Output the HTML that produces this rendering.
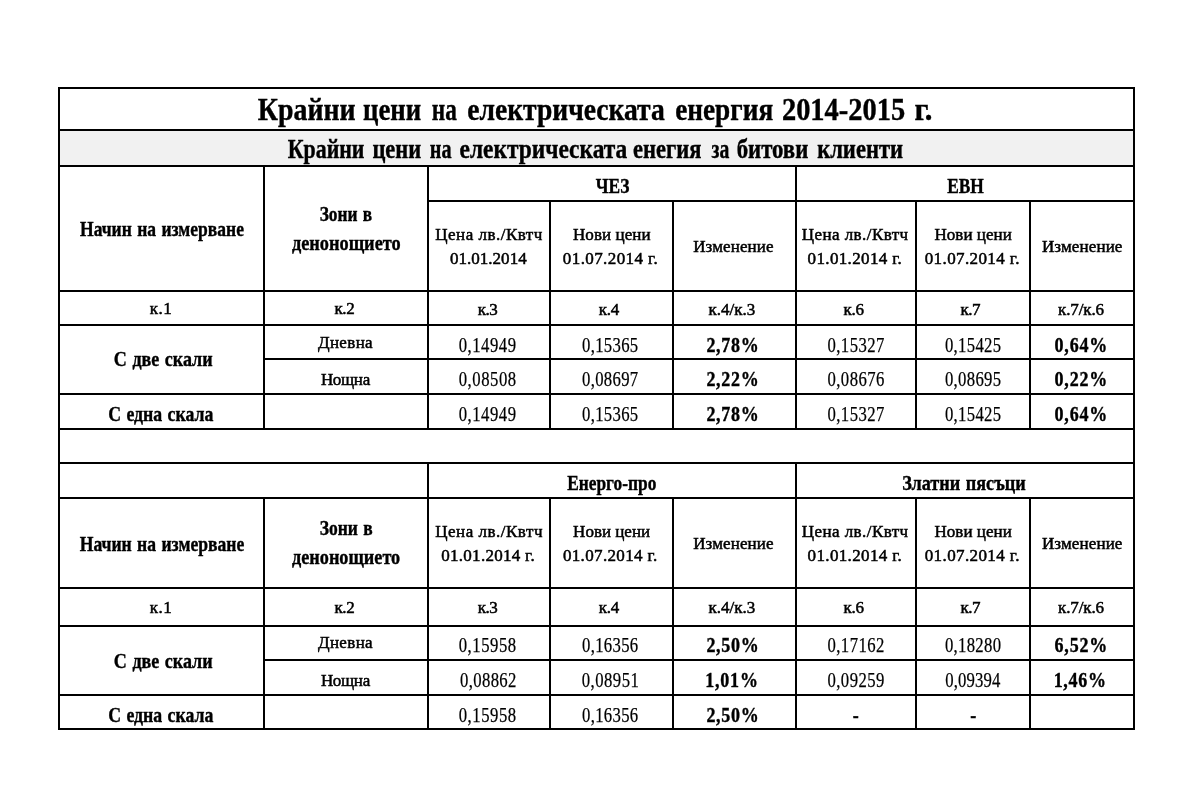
<!DOCTYPE html>
<html lang="bg"><head><meta charset="utf-8"><title>Крайни цени на електрическата енергия 2014-2015 г.</title>
<style>
html,body{margin:0;padding:0;background:#fff}
body{width:1178px;height:792px;overflow:hidden;position:relative;font-family:"Liberation Serif","DejaVu Serif",serif;color:#000}
table{position:absolute;left:58px;top:87px;width:1077px;border-collapse:separate;border-spacing:0;table-layout:fixed;border-left:2px solid #000;border-top:2px solid #000}
td,th{box-sizing:border-box;border-right:2px solid #000;border-bottom:2px solid #000;padding:0;text-align:center;vertical-align:middle;white-space:nowrap;overflow:visible;font-weight:normal;line-height:0}
.g{background:#f1f1f1}
.x{display:inline-block;white-space:nowrap;transform-origin:50% 50%;-webkit-text-stroke:0.4px #000}
.t1{font-weight:bold;font-size:32px;line-height:36px}
.t2{font-weight:bold;font-size:27px;line-height:30px}
.hb{font-weight:bold;font-size:21.5px;line-height:29px;word-spacing:1.2px}
.hr{font-size:17px;line-height:24px;-webkit-text-stroke-width:0.5px}
.k{font-size:17px;line-height:20px;-webkit-text-stroke-width:0.5px}
.n{font-size:21.7px;line-height:24px;-webkit-text-stroke-width:0.25px}
.p{font-weight:bold;font-size:21.7px;line-height:24px}
</style></head>
<body>
<table>
<colgroup><col style="width:205px"><col style="width:164px"><col style="width:122px"><col style="width:123px"><col style="width:123px"><col style="width:120px"><col style="width:114px"><col style="width:104px"></colgroup>
<tbody>
<tr style="height:42px"><th colspan="8"><span class="x t1" id="s1w1" style="transform:translate(24.5px,0px) scaleX(0.8700)">Крайни</span> <span class="x t1" id="s1w2" style="transform:translate(15.3px,0px) scaleX(0.8360)">цени</span> <span class="x t1" id="s1w3" style="transform:translate(12.2px,0px) scaleX(0.7286)">на</span> <span class="x t1" id="s1w4" style="transform:translate(-2.6px,0px) scaleX(0.8615)">електрическата</span> <span class="x t1" id="s1w5" style="transform:translate(-20.3px,0px) scaleX(0.8527)">енергия</span> <span class="x t1" id="s1w6" style="transform:translate(-31.8px,0px) scaleX(0.8882)">2014-2015</span> <span class="x t1" id="s1w7" style="transform:translate(-35.0px,0px) scaleX(0.9580)">г.</span></th></tr>
<tr style="height:36px"><th colspan="8" class="g"><span class="x t2" id="s2w1" style="transform:translate(30.7px,1px) scaleX(0.8087)">Крайни</span> <span class="x t2" id="s2w2" style="transform:translate(21.5px,1px) scaleX(0.8334)">цени</span> <span class="x t2" id="s2w3" style="transform:translate(17.1px,1px) scaleX(0.7482)">на</span> <span class="x t2" id="s2w4" style="transform:translate(4.7px,1px) scaleX(0.8667)">електрическата</span> <span class="x t2" id="s2w5" style="transform:translate(-13.7px,1px) scaleX(0.8354)">енегия</span> <span class="x t2" id="s2w6" style="transform:translate(-17.8px,1px) scaleX(0.7290)">за</span> <span class="x t2" id="s2w7" style="transform:translate(-24.0px,1px) scaleX(0.8433)">битови</span> <span class="x t2" id="s2w8" style="transform:translate(-34.2px,1px) scaleX(0.8376)">клиенти</span></th></tr>
<tr style="height:35px"><th rowspan="2"><span class="x hb" id="s3" style="transform:translate(0.5px,0.5px) scaleX(0.8157)">Начин на измерване</span></th><th rowspan="2"><span class="x hb" id="s4" style="transform:translate(0.4px,-0.5px) scaleX(0.8067)">Зони в</span><br><span class="x hb" id="s5" style="transform:translate(0.4px,-0.5px) scaleX(0.8501)">денонощието</span></th><th colspan="3"><span class="x hb" id="s6" style="transform:translate(0.8px,2.5px) scaleX(0.8085)">ЧЕЗ</span></th><th colspan="3"><span class="x hb" id="s7" style="transform:translate(0.8px,2.5px) scaleX(0.8070)">ЕВН</span></th></tr>
<tr style="height:90px"><th><span class="x hr" id="s8" style="transform:translate(0.06px,0.5px) scaleX(1.0000);letter-spacing:0.496px">Цена лв./Квтч</span><br><span class="x hr" id="s9" style="transform:translate(-0.7px,0.5px) scaleX(1.0000);letter-spacing:0.027px">01.01.2014</span></th><th><span class="x hr" id="s10" style="transform:translate(0.3px,0.5px) scaleX(1.0000);letter-spacing:0.075px">Нови цени</span><br><span class="x hr" id="s11" style="transform:translate(-1.0px,0.5px) scaleX(1.0000);letter-spacing:0.409px">01.07.2014 г.</span></th><th><span class="x hr" id="s12" style="transform:translate(-1.1px,0.6px) scaleX(1.0000);letter-spacing:0.109px">Изменение</span></th><th><span class="x hr" id="s13" style="transform:translate(-0.84px,0.5px) scaleX(1.0000);letter-spacing:0.436px">Цена лв./Квтч</span><br><span class="x hr" id="s14" style="transform:translate(-1.1px,0.5px) scaleX(1.0000);letter-spacing:0.345px">01.01.2014 г.</span></th><th><span class="x hr" id="s15" style="transform:translate(0.16px,0.5px) scaleX(1.0000);letter-spacing:0.038px">Нови цени</span><br><span class="x hr" id="s16" style="transform:translate(-0.7px,0.5px) scaleX(1.0000);letter-spacing:0.392px">01.07.2014 г.</span></th><th><span class="x hr" id="s17" style="transform:translate(0.2px,0.6px) scaleX(1.0000);letter-spacing:0.126px">Изменение</span></th></tr>
<tr style="height:34px"><th><span class="x k" id="s18" style="transform:translate(-0.5px,1.0px) scaleX(1.0000);letter-spacing:0.5px">к.1</span></th><th><span class="x k" id="s19" style="transform:translate(-1.6px,1.0px) scaleX(1.0000);letter-spacing:-0.4px">к.2</span></th><th><span class="x k" id="s20" style="transform:translate(-1.5px,1.9px) scaleX(1.0000);letter-spacing:-0.5px">к.3</span></th><th><span class="x k" id="s21" style="transform:translate(-2.7px,1.9px) scaleX(1.0000);letter-spacing:-0.3px">к.4</span></th><th><span class="x k" id="s22" style="transform:translate(-2.6px,1.9px) scaleX(1.0000);letter-spacing:0.0px">к.4/к.3</span></th><th><span class="x k" id="s23" style="transform:translate(-2.4px,1.9px) scaleX(1.0000);letter-spacing:-0.2px">к.6</span></th><th><span class="x k" id="s24" style="transform:translate(-2.8px,1.9px) scaleX(1.0000);letter-spacing:-0.6px">к.7</span></th><th><span class="x k" id="s25" style="transform:translate(-1.0px,1.9px) scaleX(1.0000);letter-spacing:-0.124px">к.7/к.6</span></th></tr>
<tr style="height:34px"><th rowspan="2"><span class="x hb" id="s26" style="transform:translate(1.4px,0.3px) scaleX(0.8392)">С две скали</span></th><th><span class="x hr" id="s27" style="transform:translate(-0.5px,0.5px) scaleX(1.0000);letter-spacing:0.36px">Дневна</span></th><td><span class="x n" id="s28" style="transform:translate(-1.0px,2.8px) scaleX(0.7700);letter-spacing:0.679px">0,14949</span></td><td><span class="x n" id="s29" style="transform:translate(-1.3px,2.8px) scaleX(0.7700);letter-spacing:0.38px">0,15365</span></td><td><span class="x p" id="s30" style="transform:translate(-2.0px,2.8px) scaleX(0.8300);letter-spacing:0.84px">2,78%</span></td><td><span class="x n" id="s31" style="transform:translate(-0.1px,2.8px) scaleX(0.7700);letter-spacing:0.569px">0,15327</span></td><td><span class="x n" id="s32" style="transform:translate(0.5px,2.8px) scaleX(0.7700);letter-spacing:0.398px">0,15425</span></td><td><span class="x p" id="s33" style="transform:translate(-1.1px,2.8px) scaleX(0.8300);letter-spacing:1.038px">0,64%</span></td></tr>
<tr style="height:35px"><th><span class="x hr" id="s34" style="transform:translate(-0.6px,3.2px) scaleX(1.0000);letter-spacing:-0.3px">Нощна</span></th><td><span class="x n" id="s35" style="transform:translate(-1.0px,1.6px) scaleX(0.7700);letter-spacing:0.69px">0,08508</span></td><td><span class="x n" id="s36" style="transform:translate(-1.3px,1.6px) scaleX(0.7700);letter-spacing:0.382px">0,08697</span></td><td><span class="x p" id="s37" style="transform:translate(-2.0px,1.6px) scaleX(0.8300);letter-spacing:0.84px">2,22%</span></td><td><span class="x n" id="s38" style="transform:translate(-0.1px,1.6px) scaleX(0.7700);letter-spacing:0.568px">0,08676</span></td><td><span class="x n" id="s39" style="transform:translate(0.5px,1.6px) scaleX(0.7700);letter-spacing:0.398px">0,08695</span></td><td><span class="x p" id="s40" style="transform:translate(-1.1px,1.6px) scaleX(0.8300);letter-spacing:1.038px">0,22%</span></td></tr>
<tr style="height:35px"><th><span class="x hb" id="s41" style="transform:translate(-0.9px,2.6px) scaleX(0.8258)">С една скала</span></th><td></td><td><span class="x n" id="s42" style="transform:translate(-1.0px,2.3px) scaleX(0.7700);letter-spacing:0.679px">0,14949</span></td><td><span class="x n" id="s43" style="transform:translate(-1.3px,2.3px) scaleX(0.7700);letter-spacing:0.38px">0,15365</span></td><td><span class="x p" id="s44" style="transform:translate(-2.0px,2.3px) scaleX(0.8300);letter-spacing:0.84px">2,78%</span></td><td><span class="x n" id="s45" style="transform:translate(-0.1px,2.3px) scaleX(0.7700);letter-spacing:0.569px">0,15327</span></td><td><span class="x n" id="s46" style="transform:translate(0.5px,2.3px) scaleX(0.7700);letter-spacing:0.398px">0,15425</span></td><td><span class="x p" id="s47" style="transform:translate(-1.1px,2.3px) scaleX(0.8300);letter-spacing:1.038px">0,64%</span></td></tr>
<tr style="height:34px"><td colspan="8"></td></tr>
<tr style="height:35px"><td colspan="2"></td><th colspan="3"><span class="x hb" id="s48" style="transform:translate(-0.5px,2.5px) scaleX(0.8071)">Енерго-про</span></th><th colspan="3"><span class="x hb" id="s49" style="transform:translate(-1.1px,2.5px) scaleX(0.8459)">Златни пясъци</span></th></tr>
<tr style="height:90px"><th><span class="x hb" id="s50" style="transform:translate(0.5px,0.5px) scaleX(0.8191)">Начин на измерване</span></th><th><span class="x hb" id="s51" style="transform:translate(0.7px,-0.4px) scaleX(0.8146)">Зони в</span><br><span class="x hb" id="s52" style="transform:translate(0.2px,-0.3px) scaleX(0.8465)">денонощието</span></th><th><span class="x hr" id="s53" style="transform:translate(0.1px,0.8px) scaleX(1.0000);letter-spacing:0.508px">Цена лв./Квтч</span><br><span class="x hr" id="s54" style="transform:translate(-0.9px,0.8px) scaleX(1.0000);letter-spacing:0.288px">01.01.2014 г.</span></th><th><span class="x hr" id="s55" style="transform:translate(0.1px,0.8px) scaleX(1.0000);letter-spacing:0.001px">Нови цени</span><br><span class="x hr" id="s56" style="transform:translate(-1.3px,0.8px) scaleX(1.0000);letter-spacing:0.35px">01.07.2014 г.</span></th><th><span class="x hr" id="s57" style="transform:translate(-1.1px,0.8px) scaleX(1.0000);letter-spacing:0.109px">Изменение</span></th><th><span class="x hr" id="s58" style="transform:translate(-0.84px,0.8px) scaleX(1.0000);letter-spacing:0.436px">Цена лв./Квтч</span><br><span class="x hr" id="s59" style="transform:translate(-1.1px,0.8px) scaleX(1.0000);letter-spacing:0.345px">01.01.2014 г.</span></th><th><span class="x hr" id="s60" style="transform:translate(0.16px,0.8px) scaleX(1.0000);letter-spacing:0.038px">Нови цени</span><br><span class="x hr" id="s61" style="transform:translate(-0.7px,0.8px) scaleX(1.0000);letter-spacing:0.392px">01.07.2014 г.</span></th><th><span class="x hr" id="s62" style="transform:translate(0.2px,0.8px) scaleX(1.0000);letter-spacing:0.126px">Изменение</span></th></tr>
<tr style="height:38px"><th><span class="x k" id="s63" style="transform:translate(-0.5px,1.2px) scaleX(1.0000);letter-spacing:0.5px">к.1</span></th><th><span class="x k" id="s64" style="transform:translate(-1.6px,1.2px) scaleX(1.0000);letter-spacing:-0.4px">к.2</span></th><th><span class="x k" id="s65" style="transform:translate(-1.5px,0.8px) scaleX(1.0000);letter-spacing:-0.5px">к.3</span></th><th><span class="x k" id="s66" style="transform:translate(-2.7px,0.8px) scaleX(1.0000);letter-spacing:-0.3px">к.4</span></th><th><span class="x k" id="s67" style="transform:translate(-2.6px,0.8px) scaleX(1.0000);letter-spacing:0.0px">к.4/к.3</span></th><th><span class="x k" id="s68" style="transform:translate(-2.4px,0.8px) scaleX(1.0000);letter-spacing:-0.2px">к.6</span></th><th><span class="x k" id="s69" style="transform:translate(-2.8px,0.8px) scaleX(1.0000);letter-spacing:-0.6px">к.7</span></th><th><span class="x k" id="s70" style="transform:translate(-1.0px,0.8px) scaleX(1.0000);letter-spacing:-0.124px">к.7/к.6</span></th></tr>
<tr style="height:34px"><th rowspan="2"><span class="x hb" id="s71" style="transform:translate(1.4px,0.6px) scaleX(0.8391)">С две скали</span></th><th><span class="x hr" id="s72" style="transform:translate(-0.5px,0.2px) scaleX(1.0000);letter-spacing:0.36px">Дневна</span></th><td><span class="x n" id="s73" style="transform:translate(-1.0px,1.9px) scaleX(0.7700);letter-spacing:0.69px">0,15958</span></td><td><span class="x n" id="s74" style="transform:translate(-1.3px,1.9px) scaleX(0.7700);letter-spacing:0.381px">0,16356</span></td><td><span class="x p" id="s75" style="transform:translate(-2.0px,1.9px) scaleX(0.8300);letter-spacing:0.84px">2,50%</span></td><td><span class="x n" id="s76" style="transform:translate(-0.1px,1.9px) scaleX(0.7700);letter-spacing:0.567px">0,17162</span></td><td><span class="x n" id="s77" style="transform:translate(0.5px,1.9px) scaleX(0.7700);letter-spacing:0.397px">0,18280</span></td><td><span class="x p" id="s78" style="transform:translate(-1.1px,1.9px) scaleX(0.8300);letter-spacing:1.038px">6,52%</span></td></tr>
<tr style="height:35px"><th><span class="x hr" id="s79" style="transform:translate(-0.6px,3.2px) scaleX(1.0000);letter-spacing:-0.3px">Нощна</span></th><td><span class="x n" id="s80" style="transform:translate(-0.5px,1.7px) scaleX(0.7700);letter-spacing:0.466px">0,08862</span></td><td><span class="x n" id="s81" style="transform:translate(-0.8px,1.7px) scaleX(0.7700);letter-spacing:0.596px">0,08951</span></td><td><span class="x p" id="s82" style="transform:translate(-2.2px,1.7px) scaleX(0.8300);letter-spacing:0.939px">1,01%</span></td><td><span class="x n" id="s83" style="transform:translate(-0.1px,1.7px) scaleX(0.7700);letter-spacing:0.567px">0,09259</span></td><td><span class="x n" id="s84" style="transform:translate(0.0px,1.7px) scaleX(0.7700);letter-spacing:0.18px">0,09394</span></td><td><span class="x p" id="s85" style="transform:translate(-1.8px,1.7px) scaleX(0.8300);letter-spacing:0.858px">1,46%</span></td></tr>
<tr style="height:34px"><th><span class="x hb" id="s86" style="transform:translate(-0.9px,2.5px) scaleX(0.8258)">С една скала</span></th><td></td><td><span class="x n" id="s87" style="transform:translate(-1.0px,2.8px) scaleX(0.7700);letter-spacing:0.69px">0,15958</span></td><td><span class="x n" id="s88" style="transform:translate(-1.3px,2.8px) scaleX(0.7700);letter-spacing:0.381px">0,16356</span></td><td><span class="x p" id="s89" style="transform:translate(-2.0px,2.8px) scaleX(0.8300);letter-spacing:0.84px">2,50%</span></td><td><span class="x p" id="s90" style="transform:translate(0.2px,3px) scaleX(0.8300)">-</span></td><td><span class="x p" id="s91" style="transform:translate(0.7px,3px) scaleX(0.8300)">-</span></td><td></td></tr>
</tbody>
</table>
</body></html>
